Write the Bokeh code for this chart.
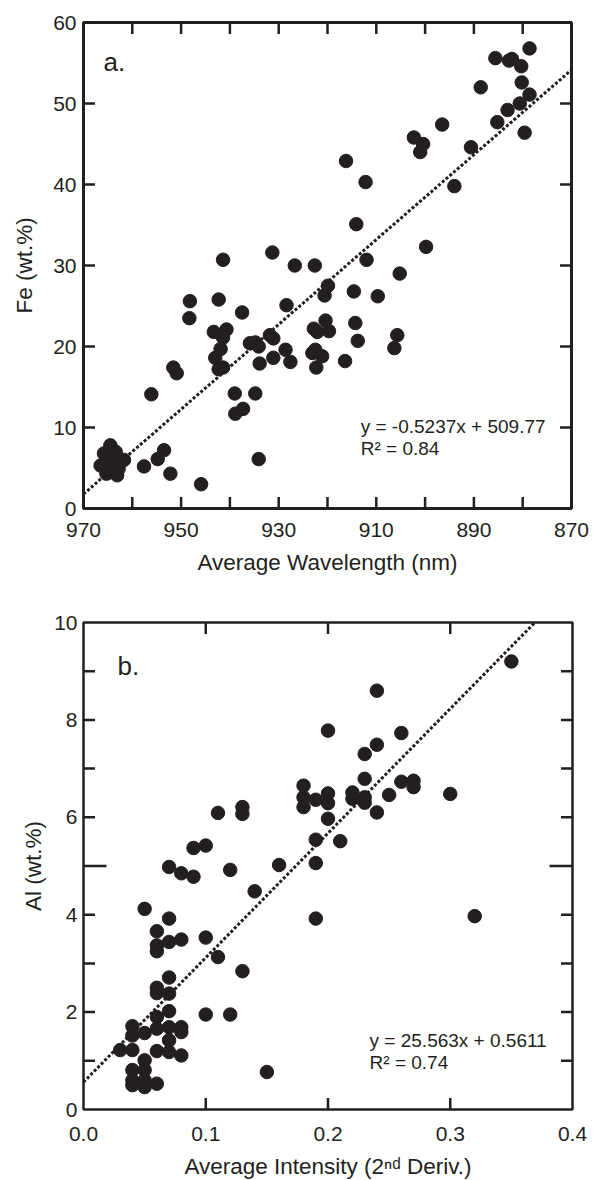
import math
from bokeh.plotting import figure
from bokeh.models import Range1d, FixedTicker, Label, PrintfTickFormatter
from bokeh.layouts import column
from bokeh.embed import file_html
from bokeh.resources import INLINE

# ---------------- data: panel a ----------------
wavelength_nm = [
    878.6, 885.6, 882.8, 882.2, 880.3, 880.2, 888.6, 878.6, 880.6, 883.1, 885.2, 879.6,
    896.5, 902.3, 900.4, 901.0, 890.6, 916.2, 912.2, 894.0, 914.1, 899.8, 912.0,
    926.7, 922.6, 905.2, 919.9, 920.6, 914.6, 909.7, 928.4,
    920.4, 922.8, 919.7, 922.1, 914.3, 913.8, 905.7, 906.3,
    931.1, 931.1, 928.6, 927.6, 922.5, 923.1, 921.1, 922.3, 916.4,
    941.4, 931.3, 948.2, 948.3, 942.3, 937.5, 943.3, 940.7, 941.4, 941.9, 943.0, 942.3, 941.4,
    935.9, 934.8, 934.1, 931.8, 933.9,
    951.6, 950.9, 956.1, 939.0, 934.8, 938.9, 937.3, 934.1,
    957.6, 954.8, 953.5, 952.2, 945.9,
    964.5, 965.8, 966.5, 965.3, 963.1, 962.4, 963.4, 964.8, 961.7, 963.8, 965.5, 962.8, 964.5,
]
fe_wt = [
    56.8, 55.6, 55.3, 55.5, 54.6, 52.6, 52.0, 51.1, 50.0, 49.2, 47.7, 46.4,
    47.4, 45.8, 45.0, 44.0, 44.6, 42.9, 40.3, 39.8, 35.1, 32.3, 30.7,
    30.0, 30.0, 29.0, 27.5, 26.3, 26.8, 26.2, 25.1,
    23.2, 22.2, 21.9, 21.8, 22.9, 20.7, 21.4, 19.8,
    21.0, 18.6, 19.6, 18.1, 19.6, 19.2, 18.8, 17.4, 18.2,
    30.7, 31.6, 25.6, 23.5, 25.8, 24.2, 21.8, 22.1, 21.1, 19.7, 18.6, 17.2, 17.4,
    20.4, 20.5, 20.0, 21.4, 17.9,
    17.4, 16.7, 14.1, 14.2, 14.2, 11.7, 12.3, 6.1,
    5.2, 6.1, 7.2, 4.3, 3.0,
    7.8, 6.8, 5.3, 4.3, 4.1, 5.9, 7.0, 5.9, 6.0, 5.1, 5.3, 4.9, 4.7,
]
slope_a, intercept_a = -0.5237, 509.77
eq_a = ["y = -0.5237x + 509.77", "R\u00b2 = 0.84"]
xlabels_a = [970, 950, 930, 910, 890, 870]
xticks_a = [970, 960, 950, 940, 930, 920, 910, 900, 890, 880, 870]
yticks_a = [0, 10, 20, 30, 40, 50, 60]

# ---------------- data: panel b ----------------
intensity = [
    0.35, 0.24, 0.20, 0.26, 0.24, 0.23, 0.23, 0.26, 0.27, 0.27, 0.25, 0.30, 0.22, 0.22,
    0.23, 0.23, 0.24, 0.20, 0.20, 0.19, 0.18, 0.18, 0.18, 0.20, 0.19, 0.21, 0.19,
    0.11, 0.13, 0.13, 0.09, 0.10, 0.07, 0.08, 0.09, 0.12, 0.16, 0.14, 0.19, 0.32,
    0.05, 0.07, 0.06, 0.07, 0.06, 0.06, 0.08, 0.10, 0.11, 0.13,
    0.07, 0.06, 0.06, 0.07, 0.07, 0.10, 0.12, 0.06, 0.06, 0.04,
    0.05, 0.04, 0.07, 0.08, 0.08, 0.07, 0.06, 0.07, 0.08, 0.03,
    0.04, 0.05, 0.04, 0.05, 0.04, 0.05, 0.05, 0.06, 0.04, 0.15,
]
al_wt = [
    9.20, 8.60, 7.78, 7.73, 7.49, 7.30, 6.79, 6.73, 6.75, 6.62, 6.46, 6.48, 6.51, 6.38,
    6.41, 6.30, 6.10, 6.49, 6.29, 6.36, 6.65, 6.41, 6.21, 5.97, 5.54, 5.51, 5.06,
    6.09, 6.21, 6.07, 5.37, 5.42, 4.98, 4.85, 4.78, 4.92, 5.02, 4.48, 3.92, 3.97,
    4.12, 3.92, 3.66, 3.44, 3.37, 3.25, 3.49, 3.53, 3.13, 2.84,
    2.71, 2.50, 2.39, 2.38, 2.02, 1.95, 1.95, 1.90, 1.66, 1.71,
    1.57, 1.52, 1.69, 1.69, 1.59, 1.42, 1.20, 1.18, 1.11, 1.22,
    1.22, 1.01, 0.81, 0.81, 0.60, 0.60, 0.46, 0.53, 0.50, 0.77,
]
slope_b, intercept_b = 25.563, 0.5611
eq_b = ["y = 25.563x + 0.5611", "R\u00b2 = 0.74"]
xticks_b = [0.0, 0.1, 0.2, 0.3, 0.4]
ylabels_b = [0, 2, 4, 6, 8, 10]
yticks_b = [1, 2, 3, 4, 6, 7, 8, 9]
ylong_b = [5]

INK = "#231f20"
FONT = "Liberation Sans"
TICK = 23  # marker size; half of it shows inside the frame


def style_axis(ax, labels):
    ax.ticker = FixedTicker(ticks=labels)
    ax.axis_line_color = None
    ax.major_tick_line_color = None
    ax.minor_tick_line_color = None
    ax.major_tick_in = 0
    ax.major_tick_out = 0
    ax.major_label_text_font = FONT
    ax.major_label_text_color = INK
    ax.major_label_text_font_size = "21px"
    ax.axis_label_text_font = FONT
    ax.axis_label_text_font_style = "normal"
    ax.axis_label_text_color = INK
    ax.axis_label_text_font_size = "22.5px"


def make_fig(xr, yr, bl, bt, br, bb, fw, fh, outline_w):
    p = figure(x_range=xr, y_range=yr, frame_width=fw, frame_height=fh,
               min_border_left=bl, min_border_top=bt, min_border_right=br,
               min_border_bottom=bb, output_backend="svg", toolbar_location=None,
               background_fill_color="white", border_fill_color="white")
    p.xgrid.visible = False
    p.ygrid.visible = False
    p.outline_line_color = INK
    p.outline_line_width = outline_w
    return p


def inward_ticks(p, xt, yt, size):
    """Tick marks on all four frame edges, clipped to the frame so they point inward."""
    x0, x1 = p.x_range.start, p.x_range.end
    y0, y1 = p.y_range.start, p.y_range.end
    if xt:
        p.scatter(xt + xt, [y0] * len(xt) + [y1] * len(xt), marker="dash",
                  angle=math.pi / 2, size=size, line_color=INK, line_width=2.5)
    if yt:
        p.scatter([x0] * len(yt) + [x1] * len(yt), yt + yt, marker="dash",
                  size=size, line_color=INK, line_width=2.5)


# ---------------- panel a ----------------
p1 = make_fig(Range1d(970, 870), Range1d(0, 60), 83, 22, 23, 72, 488, 486, 3)
style_axis(p1.xaxis[0], xlabels_a)
style_axis(p1.yaxis[0], yticks_a)
p1.xaxis[0].axis_label = "Average Wavelength (nm)"
p1.yaxis[0].axis_label = "Fe (wt.%)"
p1.xaxis[0].major_label_standoff = 14
p1.yaxis[0].major_label_standoff = 7
p1.xaxis[0].axis_label_standoff = 10
p1.yaxis[0].axis_label_standoff = 13
inward_ticks(p1, xticks_a, yticks_a, TICK)

xa = [p1.x_range.start, p1.x_range.end]
p1.line(xa, [slope_a * v + intercept_a for v in xa], line_color=INK,
        line_width=3, line_dash="3 2")
p1.scatter(wavelength_nm, fe_wt, marker="circle", size=13.5,
           fill_color=INK, line_color=INK)
p1.add_layout(Label(x=965.9, y=55.1, text="a.", text_font=FONT,
                    text_font_size="26px", text_color=INK, text_baseline="alphabetic"))
p1.add_layout(Label(x=913.2, y=10.16, text=eq_a[0], text_font=FONT, text_font_size="19px",
                    text_color=INK, text_baseline="middle", text_align="left"))
p1.add_layout(Label(x=913.2, y=7.4, text=eq_a[1], text_font=FONT, text_font_size="19px",
                    text_color=INK, text_baseline="middle", text_align="left"))

# ---------------- panel b ----------------
p2 = make_fig(Range1d(0, 0.4), Range1d(0, 10), 74, 42, 31, 70, 489, 487, 2.5)
style_axis(p2.xaxis[0], xticks_b)
style_axis(p2.yaxis[0], ylabels_b)
p2.xaxis[0].formatter = PrintfTickFormatter(format="%.1f")
p2.xaxis[0].axis_label = "Average Intensity (2\u207f\u1d48 Deriv.)"
p2.yaxis[0].axis_label = "Al (wt.%)"
p2.xaxis[0].major_label_standoff = 17
p2.yaxis[0].major_label_standoff = 6
p2.xaxis[0].axis_label_standoff = 10
p2.yaxis[0].axis_label_standoff = 5
inward_ticks(p2, xticks_b[1:-1], yticks_b, TICK)
inward_ticks(p2, [], ylong_b, 2 * TICK)

xb = [0.0, (p2.y_range.end - intercept_b) / slope_b]
p2.line(xb, [slope_b * v + intercept_b for v in xb], line_color=INK,
        line_width=3, line_dash="3 2")
p2.scatter(intensity, al_wt, marker="circle", size=13.5,
           fill_color=INK, line_color=INK)
p2.add_layout(Label(x=0.0278, y=9.11, text="b.", text_font=FONT,
                    text_font_size="26px", text_color=INK, text_baseline="alphabetic"))
p2.add_layout(Label(x=0.234, y=1.41, text=eq_b[0], text_font=FONT, text_font_size="19px",
                    text_color=INK, text_baseline="middle", text_align="left"))
p2.add_layout(Label(x=0.234, y=0.956, text=eq_b[1], text_font=FONT, text_font_size="19px",
                    text_color=INK, text_baseline="middle", text_align="left"))

layout = column(p1, p2)
open("out.html", "w").write(file_html(layout, INLINE))
